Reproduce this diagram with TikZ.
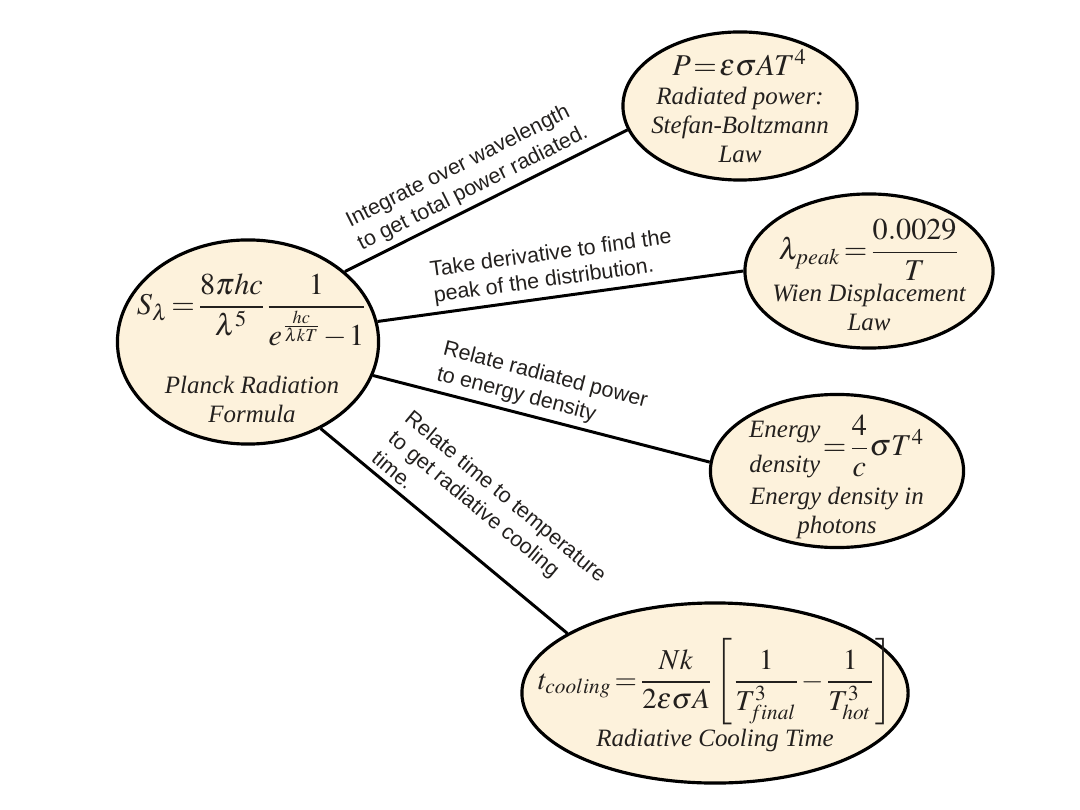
\documentclass[tikz,border=0pt]{standalone}
\usepackage{amsmath}
\usepackage{mathptmx}
\usepackage{fontspec}
\setmainfont{Liberation Serif}
\newfontfamily\helv{Liberation Sans}
\usetikzlibrary{shapes.geometric}
\definecolor{bubblefill}{RGB}{253,242,220}
\definecolor{inktext}{RGB}{35,32,30}
\newcommand{\eqsize}{\fontsize{8.6}{10}\selectfont\thickmuskip=1.5mu\medmuskip=1mu\nulldelimiterspace=0.8pt}
\newcommand{\capfont}{\fontsize{7.1}{8.3}\selectfont\itshape}
\tikzset{
  bubble/.style={ellipse, draw=black, line width=0.9pt, fill=bubblefill, inner sep=0pt},
  bubbletext/.style={align=center, text=inktext, inner sep=0pt, font=\capfont},
  link/.style={line width=0.85pt},
  linktext/.style={sloped, above, align=left, text=inktext, inner sep=1.5pt,
    font=\helv\fontsize{6.1}{7.4}\selectfont},
}
\begin{document}
\begin{tikzpicture}[x=0.01cm, y=-0.01cm]
\useasboundingbox (0,0) rectangle (1080,810);
%ellipses
\node[bubble, minimum width=2.61cm, minimum height=2.04cm] (planck) at (248,342) {};
\node[bubble, minimum width=2.34cm, minimum height=1.48cm] (stefan) at (740,106) {};
\node[bubble, minimum width=2.48cm, minimum height=1.54cm] (wien) at (869,271) {};
\node[bubble, minimum width=2.53cm, minimum height=1.53cm] (energy) at (837,471) {};
\node[bubble, minimum width=3.86cm, minimum height=1.80cm] (cooling) at (715,693) {};
%texts
\node[bubbletext] (planck-text) at (252,348) {{\eqsize$S_\lambda=\dfrac{8\pi hc}{\lambda^5}\dfrac{1}{e^{\frac{hc}{\lambda kT}}-1}$}\\[7pt]Planck Radiation\\Formula};
\node[bubbletext] (stefan-text) at (stefan) {{\eqsize$P=\varepsilon\sigma A T^4$}\\Radiated power:\\Stefan-Boltzmann\\Law};
\node[bubbletext] (wien-text) at (869,275) {{\eqsize$\lambda_{peak}=\dfrac{0.0029}{T}$}\\Wien Displacement\\Law};
\node[bubbletext] (energy-text) at (837,476) {{\eqsize$\begin{tabular}{@{}c@{}}\capfont Energy\\\capfont density\end{tabular}=\dfrac{4}{c}\sigma T^4$}\\Energy density in\\photons};
\node[bubbletext] (cooling-text) at (715,695) {{\eqsize\fontsize{8.2}{9.6}\selectfont$t_{cooling}=\dfrac{Nk}{2\varepsilon\sigma A}\left[\dfrac{1}{T^3_{final}}-\dfrac{1}{T^3_{hot}}\right]$}\\Radiative Cooling Time};
%connectors
\draw[link] (planck.36) -- node[linktext, pos=0.48] {Integrate over wavelength\\to get total power radiated.} (stefan.192);
\draw[link] (planck.9) -- node[linktext, pos=0.49] {Take derivative to find the\\peak of the distribution.} (wien.180);
\draw[link] (planck.-15) -- node[linktext, pos=0.48] {Relate radiated power\\to energy density} (energy.176);
\draw[link] (planck.-50) -- node[linktext, pos=0.58] {Relate time to temperature\\to get radiative cooling\\time.} (cooling.158);
\end{tikzpicture}
\end{document}
